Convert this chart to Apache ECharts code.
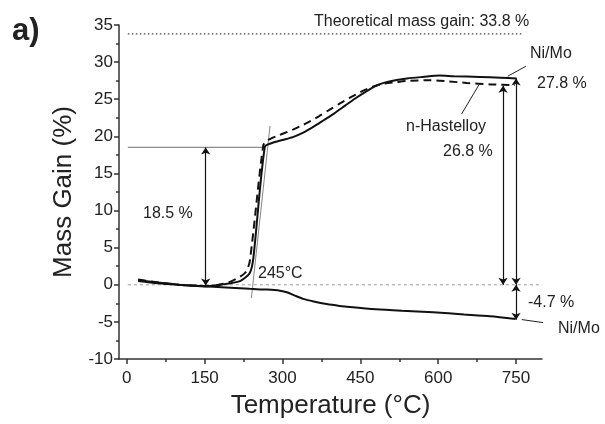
<!DOCTYPE html>
<html><head><meta charset="utf-8">
<script src="https://cdn.jsdelivr.net/npm/echarts@6/dist/echarts.min.js"></script>
<style>html,body{margin:0;padding:0;background:#fff}#c{width:605px;height:424px}</style>
</head><body><div id="c"></div>
<script>
// ---- data (temperature °C, mass gain %) ----
const niMoGain = [[22,0.6],[60,0.3],[100,0.0],[150,-0.2],[180,0.0],[218,0.5],[237,1.6],[244,3.7],[266,18.6],[280,19.1],[300,19.5],[320,19.9],[340,20.5],[360,21.3],[380,22.2],[400,23.1],[420,24.1],[440,25.1],[460,26.0],[480,26.8],[500,27.3],[520,27.6],[540,27.8],[570,28.0],[603,28.2],[630,28.1],[680,28.0],[720,27.9],[751,27.8]];
const nHastelloy = [[22,0.7],[60,0.3],[100,0.0],[150,-0.2],[170,-0.1],[199,0.4],[228,1.6],[237,3.2],[263,18.8],[272,19.5],[295,20.2],[320,20.9],[347,21.8],[370,22.7],[391,23.6],[410,24.4],[430,25.2],[460,26.3],[488,27.0],[520,27.3],[546,27.5],[584,27.55],[620,27.4],[655,27.2],[700,27.0],[748,26.9]];
const niMoLoss = [[22,0.5],[60,0.2],[100,0.0],[150,-0.2],[200,-0.4],[237,-0.55],[270,-0.65],[295,-0.8],[310,-1.05],[325,-1.5],[340,-1.9],[360,-2.25],[385,-2.6],[410,-2.85],[430,-3.0],[480,-3.3],[530,-3.5],[590,-3.7],[650,-4.0],[700,-4.25],[749,-4.6]];
const theoreticalGain = 33.8;
const onsetStep = [[2,18.5],[266,18.5]];
const onsetTangent = [[240,-1.8],[276,21.4]];
const zeroRef = [[2,0],[800,0]];
const theoLine = [[2,33.8],[765,33.8]];
// double arrows: [temperature, from, to]
const arrows = [[152,18.5,-0.1],[725,26.8,0],[750,27.8,0],[750,0,-4.7]];
// leader lines
const leaderNiMoTop = [[769,29.44],[734,28.1]];
const leaderHast = [[645,23.0],[679,27.0]];
const leaderNiMoBottom = [[761,-4.69],[816,-5.23]];
const xMajorTicks = [0,150,300,450,600,750];
const xMinorTicks = [75,225,375,525,675];
const yRange = [-10,35];
const xRange = [-15,800];

const chart = echarts.init(document.getElementById('c'));
const FONT = 'Liberation Sans, Arial, sans-serif';
const txt = '#222';
function lineSeries(data, style, extra){
  return Object.assign({type:'line', data, showSymbol:false, symbol:'none', silent:true, animation:false,
    lineStyle:style, z:3}, extra||{});
}
function text(x,y,s,size,weight,align){
  return {type:'text', x:x, y:y, silent:true, style:{text:s, font:(weight||'normal')+' '+size+'px '+FONT, fill:txt, textAlign:align||'left', textVerticalAlign:'middle'}};
}
chart.setOption({
  backgroundColor:'#fff',
  animation:false,
  grid:{left:119, right:63, top:25, bottom:61.5},
  xAxis:[{
    type:'value', min:xRange[0], max:xRange[1], position:'bottom',
    name:'Temperature (°C)', nameLocation:'middle', nameGap:34,
    nameTextStyle:{fontFamily:FONT, fontSize:26, color:txt},
    axisLine:{onZero:false, lineStyle:{color:'#333', width:1.5}},
    axisTick:{customValues:xMajorTicks, length:5, lineStyle:{color:'#333', width:1.5}},
    axisLabel:{customValues:xMajorTicks, margin:11, fontFamily:FONT, fontSize:17, color:txt},
    splitLine:{show:false}
  },{
    type:'value', min:xRange[0], max:xRange[1], position:'bottom',
    axisLine:{show:false, onZero:false},
    axisTick:{customValues:xMinorTicks, length:3, lineStyle:{color:'#333', width:1.5}},
    axisLabel:{show:false}, splitLine:{show:false}
  }],
  yAxis:{
    type:'value', min:yRange[0], max:yRange[1], interval:5,
    name:'Mass Gain (%)', nameLocation:'middle', nameGap:42,
    nameTextStyle:{fontFamily:FONT, fontSize:26, color:txt},
    axisLine:{onZero:false, lineStyle:{color:'#333', width:1.5}},
    axisTick:{length:5, lineStyle:{color:'#333', width:1.5}},
    minorTick:{show:true, splitNumber:2, length:3, lineStyle:{color:'#333', width:1.5}},
    axisLabel:{margin:6, fontFamily:FONT, fontSize:17, color:txt},
    splitLine:{show:false}
  },
  series:[
    lineSeries(theoLine, {color:'#444', width:1.3, type:[1.5,2.5]}),
    lineSeries(zeroRef, {color:'#999', width:1, type:[3,3]}),
    lineSeries(onsetStep, {color:'#8c8c8c', width:1.3}),
    lineSeries(onsetTangent, {color:'#777', width:0.9}),
    lineSeries(niMoLoss, {color:'#111', width:2}, {smooth:0.25}),
    lineSeries(nHastelloy, {color:'#111', width:2, type:[8,5]}, {smooth:0.25}),
    lineSeries(niMoGain, {color:'#111', width:2}, {smooth:0.25}),
    lineSeries(leaderNiMoTop, {color:'#222', width:1}, {clip:false}),
    lineSeries(leaderHast, {color:'#222', width:1}, {clip:false}),
    lineSeries(leaderNiMoBottom, {color:'#222', width:1}, {clip:false}),
    {type:'line', data:[], silent:true, animation:false,
     markLine:{silent:true, animation:false, symbol:['arrow','arrow'], symbolSize:7,
       lineStyle:{color:'#111', width:1.2, type:'solid'}, label:{show:false},
       data: arrows.map(a=>[{coord:[a[0],a[1]]},{coord:[a[0],a[2]]}])}}
  ],
  graphic:[
    text(12,31,'a)',31,'bold'),
    text(314,22,'Theoretical mass gain: '+theoreticalGain.toFixed(1)+' %',16),
    text(530,54,'Ni/Mo',16),
    text(537,84,'27.8 %',16),
    text(406,127,'n-Hastelloy',16),
    text(443,152,'26.8 %',16),
    text(143,214,'18.5 %',16),
    text(258,274,'245°C',16),
    text(528,303,'-4.7 %',16),
    text(558,329,'Ni/Mo',16)
  ]
});
</script></body></html>
